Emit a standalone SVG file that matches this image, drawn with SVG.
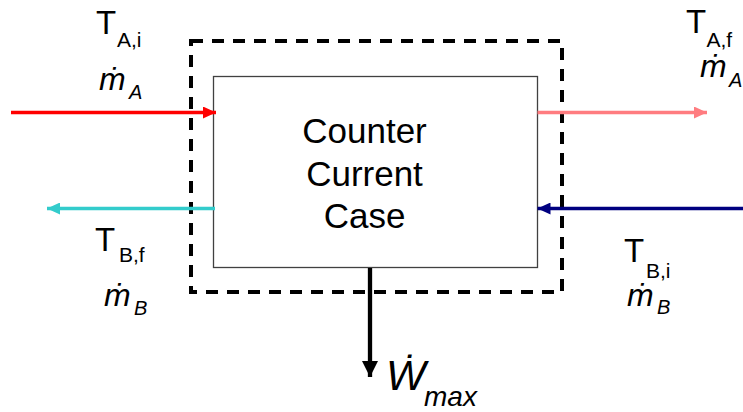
<svg xmlns="http://www.w3.org/2000/svg" width="743" height="412" viewBox="0 0 743 412">
<defs>
<style>
.lbl{font-family:"Liberation Sans",Arial,sans-serif;fill:#000}
.T{font-size:33px}
.sub{font-size:21px}
.m{font-size:32px;font-style:italic}
.msub{font-size:20px;font-style:italic}
.main{font-size:35px;text-anchor:middle}
</style>
<marker id="hRed" markerUnits="userSpaceOnUse" markerWidth="14" markerHeight="12" refX="13" refY="6" orient="auto"><path d="M0,0 L13,6 L0,12 Z" fill="#ff0000"/></marker>
<marker id="hPink" markerUnits="userSpaceOnUse" markerWidth="14" markerHeight="12" refX="13" refY="6" orient="auto"><path d="M0,0 L13,6 L0,12 Z" fill="#ff7c80"/></marker>
<marker id="hTeal" markerUnits="userSpaceOnUse" markerWidth="14" markerHeight="12" refX="13" refY="6" orient="auto"><path d="M0,0 L13,6 L0,12 Z" fill="#33cccc"/></marker>
<marker id="hNavy" markerUnits="userSpaceOnUse" markerWidth="14" markerHeight="12" refX="13" refY="6" orient="auto"><path d="M0,0 L13,6 L0,12 Z" fill="#000080"/></marker>
<marker id="hBlack" markerUnits="userSpaceOnUse" markerWidth="17" markerHeight="16" refX="16" refY="8" orient="auto"><path d="M0,0 L16,8 L0,16 Z" fill="#000"/></marker>
</defs>
<rect width="743" height="412" fill="#fff"/>
<g id="boundary">
<rect x="191" y="41" width="371" height="251" fill="none" stroke="#000" stroke-width="4" stroke-dasharray="12 9"/>
</g>
<g id="process">
<rect x="213.5" y="76.5" width="324" height="191" fill="#fff" stroke="#404040" stroke-width="1.3"/>
<text class="lbl main" x="364.5" y="143">Counter</text>
<text class="lbl main" x="364.5" y="185.5">Current</text>
<text class="lbl main" x="364.5" y="228">Case</text>
</g>
<g id="connectors" fill="none">
<line x1="11" y1="112.5" x2="216" y2="112.5" stroke="#ff0000" stroke-width="3.5" marker-end="url(#hRed)"/>
<line x1="537.5" y1="112.5" x2="707" y2="112.5" stroke="#ff7c80" stroke-width="3.5" marker-end="url(#hPink)"/>
<line x1="215" y1="208.5" x2="47" y2="208.5" stroke="#33cccc" stroke-width="3.5" marker-end="url(#hTeal)"/>
<line x1="743" y1="208.5" x2="537.5" y2="208.5" stroke="#000080" stroke-width="3.5" marker-end="url(#hNavy)"/>
<line x1="370" y1="268" x2="370" y2="377" stroke="#000" stroke-width="4.3" marker-end="url(#hBlack)"/>
</g>
<g id="label-A-in">
<text class="lbl T" x="96" y="34">T<tspan class="sub" x="117" y="47">A,i</tspan></text>
<text class="lbl m" x="99" y="90">ṁ<tspan class="msub" x="129" y="99">A</tspan></text>
</g>
<g id="label-A-out">
<text class="lbl T" x="686" y="33">T<tspan class="sub" x="706.5" y="46.5">A,f</tspan></text>
<text class="lbl m" x="700" y="77">ṁ<tspan class="msub" x="729" y="87">A</tspan></text>
</g>
<g id="label-B-out">
<text class="lbl T" x="95" y="251">T<tspan class="sub" x="119" y="262">B,f</tspan></text>
<text class="lbl m" x="104" y="306">ṁ<tspan class="msub" x="134" y="315">B</tspan></text>
</g>
<g id="label-B-in">
<text class="lbl T" x="624" y="262">T<tspan class="sub" x="646" y="278">B,i</tspan></text>
<text class="lbl m" x="627" y="306">ṁ<tspan class="msub" x="657" y="314">B</tspan></text>
</g>
<g id="label-W">
<text class="lbl" x="386" y="390" font-size="42" font-style="italic">Ẇ<tspan x="424" y="405.5" font-size="28">max</tspan></text>
</g>
</svg>
